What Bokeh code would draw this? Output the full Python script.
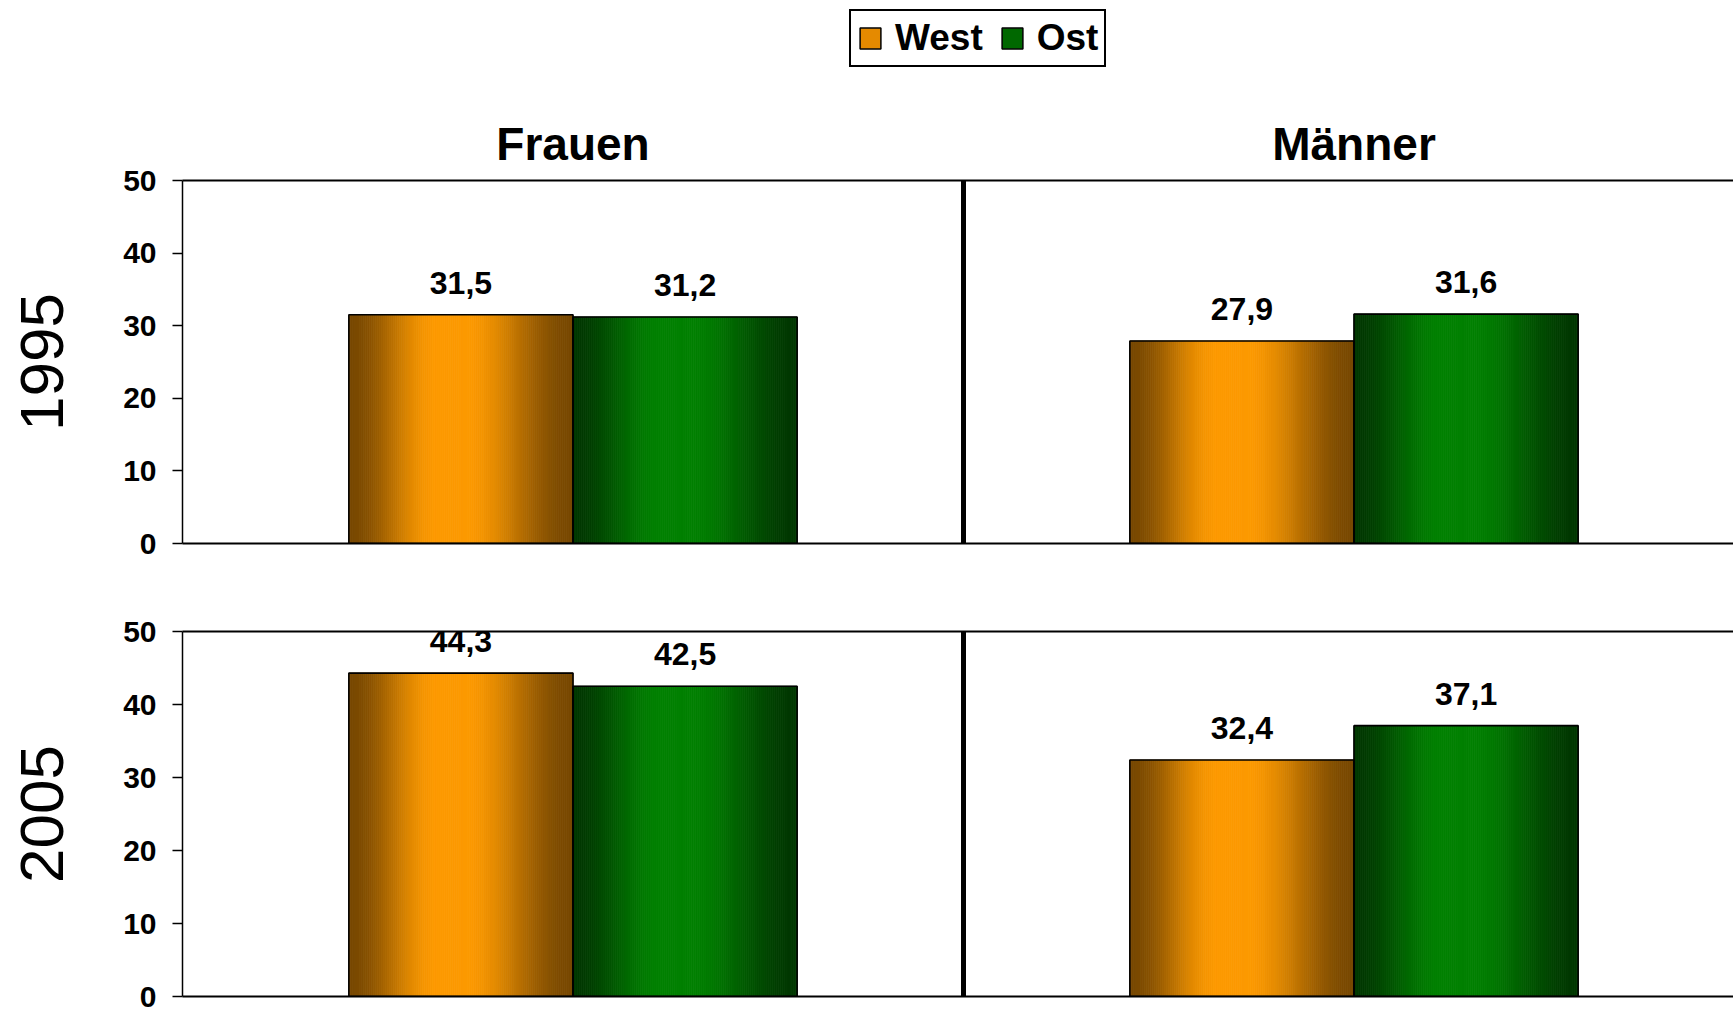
import numpy as np
from bokeh.plotting import figure
from bokeh.layouts import column
from bokeh.models import (Range1d, LinearAxis, FixedTicker, Span, Legend,
                          LegendItem, ColumnDataSource)
from bokeh.core.properties import value
from bokeh.embed import file_html
from bokeh.resources import INLINE

# ---------------- data ----------------
groups = ["Frauen", "Männer"]
years = ["1995", "2005"]
series = ["West", "Ost"]
west_1995 = [31.5, 27.9]
ost_1995 = [31.2, 31.6]
west_2005 = [44.3, 32.4]
ost_2005 = [42.5, 37.1]
y_ticks = [0, 10, 20, 30, 40, 50]

# ---------------- style ----------------
FONT = "Liberation Sans"
WEST_BRIGHT, WEST_DARK = (252, 153, 0), (120, 72, 0)
OST_BRIGHT, OST_DARK = (0, 128, 0), (0, 56, 0)
BAR_W = 0.287
N_STRIPS = 110
W = 1733
LEFT = 182


def hexcol(c):
    return "#%02x%02x%02x" % tuple(int(round(v)) for v in c)


def strip_colors(dark, bright, n, peak=0.45):
    cols = []
    for k in range(n):
        t = (k + 0.5) / n
        f = t / peak if t < peak else (1 - t) / (1 - peak)
        f = min(1.0, f * 1.15)
        f = f * f * (3 - 2 * f)
        cols.append(hexcol([d + (b - d) * f for d, b in zip(dark, bright)]))
    return cols


def make_row(year, west, ost, top_border, frame_h, bottom_border, titles):
    p = figure(width=W, height=top_border + frame_h + bottom_border,
               x_range=Range1d(0, (W - LEFT) / 781.0), y_range=Range1d(0, 50),
               toolbar_location=None, output_backend="svg",
               x_axis_location=None, y_axis_location="left",
               min_border_left=LEFT, min_border_right=0,
               min_border_top=top_border, min_border_bottom=bottom_border,
               outline_line_color=None, background_fill_color="white")
    p.grid.visible = False

    src = dict(left=[], right=[], top=[], color=[])
    outl = dict(left=[], right=[], top=[])
    labels = dict(x=[], y=[], text=[])
    for i, g in enumerate(groups):
        for vals, off, dark, bright in ((west, -0.5, WEST_DARK, WEST_BRIGHT),
                                       (ost, 0.5, OST_DARK, OST_BRIGHT)):
            v = vals[i]
            cx = i + 0.5 + off * BAR_W
            l, r = cx - BAR_W / 2, cx + BAR_W / 2
            edges = np.linspace(l, r, N_STRIPS + 1)
            src["left"] += list(edges[:-1])
            src["right"] += list(edges[1:])
            src["top"] += [v] * N_STRIPS
            src["color"] += strip_colors(dark, bright, N_STRIPS)
            outl["left"].append(l)
            outl["right"].append(r)
            outl["top"].append(v)
            labels["x"].append(cx)
            labels["y"].append(v)
            labels["text"].append(f"{v:.1f}".replace(".", ","))
    p.quad(left="left", right="right", top="top", bottom=0,
           fill_color="color", line_color="color", line_width=0.8,
           source=ColumnDataSource(src))
    p.quad(left="left", right="right", top="top", bottom=0,
           fill_color=None, line_color="black", line_width=1.6,
           source=ColumnDataSource(outl))
    p.text(x="x", y="y", text="text", source=ColumnDataSource(labels),
           text_align="center", text_baseline="alphabetic", y_offset=-32,
           text_font=value(FONT), text_font_style="bold",
           text_font_size="32px", text_color="black")

    p.add_layout(Span(location=1.0, dimension="height", line_width=5,
                      line_color="black"))

    ya = p.yaxis[0]
    ya.ticker = FixedTicker(ticks=y_ticks)
    ya.major_tick_out = 10
    ya.major_tick_in = 0
    ya.minor_tick_out = 0
    ya.minor_tick_in = 0
    ya.axis_line_width = 1.5
    ya.axis_line_color = "black"
    ya.major_tick_line_width = 1.5
    ya.major_tick_line_color = "black"
    ya.major_label_text_font = FONT
    ya.major_label_text_font_style = "bold"
    ya.major_label_text_font_size = "30px"
    ya.major_label_text_color = "black"
    ya.major_label_standoff = 16
    ya.axis_label = year
    ya.axis_label_text_font = FONT
    ya.axis_label_text_font_style = "normal"
    ya.axis_label_text_font_size = "62px"
    ya.axis_label_text_color = "black"
    ya.axis_label_standoff = 57

    if titles:
        top = LinearAxis(ticker=FixedTicker(ticks=[0.5, 1.5]),
                         major_label_overrides={0.5: groups[0], 1.5: groups[1]})
        top.major_label_text_font = FONT
        top.major_label_text_font_style = "bold"
        top.major_label_text_font_size = "46px"
        top.major_label_text_color = "black"
        top.major_label_standoff = 11
    else:
        top = LinearAxis(ticker=FixedTicker(ticks=[]))
        top.major_label_text_font_size = "0px"
    top.major_tick_out = 0
    top.major_tick_in = 0
    top.minor_tick_out = 0
    top.minor_tick_in = 0
    top.axis_line_width = 2
    top.axis_line_color = "black"
    p.add_layout(top, "above")

    bot = LinearAxis(ticker=FixedTicker(ticks=[]))
    bot.major_label_text_font_size = "0px"
    bot.major_tick_out = 0
    bot.major_tick_in = 0
    bot.minor_tick_out = 0
    bot.minor_tick_in = 0
    bot.axis_line_width = 2
    bot.axis_line_color = "black"
    p.add_layout(bot, "below")
    return p


# ---------------- header with legend ----------------
HEADER_H = 75
header = figure(width=W, height=HEADER_H, x_range=Range1d(0, 1), y_range=Range1d(0, 1),
                toolbar_location=None, output_backend="svg",
                min_border=0, min_border_left=LEFT, outline_line_color=None,
                x_axis_location=None, y_axis_location=None)
header.grid.visible = False
r_w = header.quad(left=[5], right=[6], top=[5], bottom=[6],
                  fill_color="#e58a00", line_color="black", line_width=1.5)
r_o = header.quad(left=[5], right=[6], top=[5], bottom=[6],
                  fill_color="#006800", line_color="black", line_width=1.5)
legend = Legend(items=[LegendItem(label=series[0], renderers=[r_w]),
                       LegendItem(label=series[1], renderers=[r_o])],
                orientation="horizontal", location=(849 - LEFT, HEADER_H - 67),
                border_line_color="black", border_line_width=2,
                border_line_alpha=1.0,
                background_fill_color="white", background_fill_alpha=1,
                label_text_font=FONT, label_text_font_style="bold",
                label_text_font_size="37px", label_text_color="black",
                glyph_width=26, glyph_height=26, label_standoff=12,
                spacing=16, padding=6, margin=0)
header.add_layout(legend, "center")

row1 = make_row(years[0], west_1995, ost_1995, 180 - HEADER_H, 363, 30, True)
row2 = make_row(years[1], west_2005, ost_2005, 58, 365, 15, False)

layout = column(header, row1, row2, spacing=0)
open("out.html", "w").write(file_html(layout, INLINE))
